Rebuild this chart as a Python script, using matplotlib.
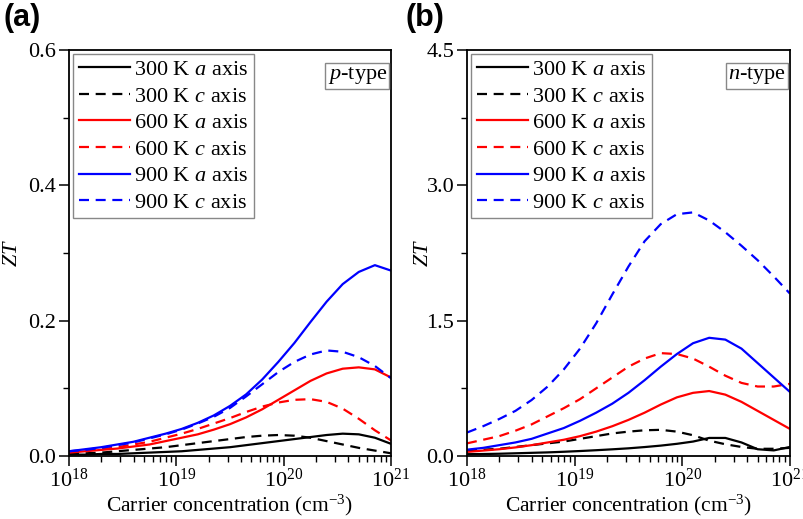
import numpy as np
import matplotlib
matplotlib.use("Agg")
import matplotlib.pyplot as plt
from matplotlib.ticker import MultipleLocator, LogLocator, FormatStrFormatter, NullFormatter

plt.rcParams['font.family'] = ['Liberation Serif', 'DejaVu Serif']
plt.rcParams['mathtext.fontset'] = 'custom'
plt.rcParams['mathtext.rm'] = 'Liberation Serif'
plt.rcParams['mathtext.it'] = 'Liberation Serif:italic'
plt.rcParams['mathtext.bf'] = 'Liberation Serif:bold'

# log10 of carrier concentration (cm^-3)
log_conc = [18.0, 18.15, 18.3, 18.45, 18.6, 18.75, 18.9, 19.05, 19.2, 19.35, 19.5,
            19.65, 19.8, 19.95, 20.1, 20.25, 20.4, 20.55, 20.7, 20.85, 21.0]

# p-type ZT
p_300_a = [0.002, 0.002, 0.003, 0.003, 0.004, 0.005, 0.006, 0.007, 0.009, 0.011, 0.013,
           0.016, 0.019, 0.022, 0.025, 0.028, 0.031, 0.033, 0.032, 0.027, 0.018]
p_300_c = [0.003, 0.004, 0.005, 0.007, 0.009, 0.011, 0.013, 0.016, 0.019, 0.022, 0.025,
           0.028, 0.030, 0.031, 0.030, 0.027, 0.022, 0.017, 0.012, 0.008, 0.004]
p_600_a = [0.005, 0.007, 0.009, 0.011, 0.014, 0.017, 0.022, 0.027, 0.032, 0.039, 0.047,
           0.057, 0.069, 0.083, 0.097, 0.111, 0.122, 0.129, 0.131, 0.128, 0.116]
p_600_c = [0.006, 0.008, 0.010, 0.013, 0.017, 0.021, 0.027, 0.033, 0.040, 0.048, 0.056,
           0.065, 0.073, 0.079, 0.083, 0.084, 0.080, 0.070, 0.055, 0.038, 0.023]
p_900_a = [0.007, 0.010, 0.013, 0.017, 0.021, 0.027, 0.033, 0.040, 0.049, 0.060, 0.074,
           0.091, 0.113, 0.139, 0.167, 0.198, 0.228, 0.254, 0.272, 0.282, 0.274]
p_900_c = [0.007, 0.009, 0.012, 0.016, 0.020, 0.026, 0.032, 0.039, 0.048, 0.058, 0.071,
           0.088, 0.106, 0.124, 0.139, 0.150, 0.156, 0.154, 0.146, 0.133, 0.115]

# n-type ZT
n_300_a = [0.020, 0.022, 0.025, 0.030, 0.035, 0.040, 0.047, 0.055, 0.064, 0.074, 0.085,
           0.099, 0.115, 0.135, 0.160, 0.200, 0.200, 0.150, 0.075, 0.062, 0.100]
n_300_c = [0.060, 0.070, 0.080, 0.100, 0.120, 0.140, 0.160, 0.190, 0.220, 0.250, 0.270,
           0.285, 0.290, 0.270, 0.230, 0.170, 0.130, 0.100, 0.080, 0.080, 0.090]
n_600_a = [0.045, 0.060, 0.075, 0.095, 0.120, 0.150, 0.180, 0.220, 0.270, 0.330, 0.400,
           0.480, 0.570, 0.650, 0.700, 0.720, 0.680, 0.600, 0.500, 0.400, 0.300]
n_600_c = [0.14, 0.18, 0.22, 0.28, 0.35, 0.44, 0.53, 0.63, 0.75, 0.87, 0.99,
           1.08, 1.14, 1.13, 1.08, 0.99, 0.89, 0.81, 0.77, 0.77, 0.80]
n_900_a = [0.07, 0.09, 0.12, 0.15, 0.19, 0.25, 0.31, 0.39, 0.48, 0.58, 0.70,
           0.84, 0.99, 1.13, 1.25, 1.31, 1.29, 1.19, 1.03, 0.87, 0.71]
n_900_c = [0.26, 0.33, 0.41, 0.50, 0.62, 0.77, 0.96, 1.19, 1.47, 1.79, 2.10,
           2.38, 2.57, 2.68, 2.70, 2.61, 2.48, 2.33, 2.17, 1.99, 1.80]

labels = ['300 K $a$ axis', '300 K $c$ axis', '600 K $a$ axis',
          '600 K $c$ axis', '900 K $a$ axis', '900 K $c$ axis']
colors = ['black', 'black', 'red', 'red', 'blue', 'blue']
styles = ['-', '--', '-', '--', '-', '--']

x = 10.0 ** np.array(log_conc)

fig = plt.figure(figsize=(8.04, 5.19), dpi=100)
ax1 = fig.add_axes([0.0858, 0.1214, 0.4005, 0.7823])
ax2 = fig.add_axes([0.5808, 0.1214, 0.4017, 0.7823])

panels = [
    (ax1, [p_300_a, p_300_c, p_600_a, p_600_c, p_900_a, p_900_c], 0.6, 0.2, 0.1, '%.1f',
     '$p$-type', -0.146),
    (ax2, [n_300_a, n_300_c, n_600_a, n_600_c, n_900_a, n_900_c], 4.5, 1.5, 0.75, '%.1f',
     '$n$-type', -0.105),
]

for ax, series, ymax, major, minor, fmt, tag, ylx in panels:
    for y, lab, c, ls in zip(series, labels, colors, styles):
        line, = ax.plot(x, y, color=c, lw=1.6, ls=ls, label=lab)
        if ls == '--':
            line.set_dashes((4.5, 3.0))
    ax.set_xscale('log')
    ax.set_xlim(1e18, 1e21)
    ax.set_ylim(0, ymax)
    ax.yaxis.set_major_locator(MultipleLocator(major))
    ax.yaxis.set_minor_locator(MultipleLocator(minor))
    ax.yaxis.set_major_formatter(FormatStrFormatter(fmt))
    ax.xaxis.set_major_locator(LogLocator(base=10, numticks=10))
    ax.xaxis.set_minor_locator(LogLocator(base=10, subs=np.arange(2, 10), numticks=20))
    ax.xaxis.set_minor_formatter(NullFormatter())
    ax.tick_params(which='major', direction='out', length=7, width=1.1, labelsize=16,
                   top=False, right=False, pad=2)
    ax.tick_params(which='minor', direction='out', length=4, width=1.0,
                   top=False, right=False)
    for sp in ax.spines.values():
        sp.set_linewidth(1.3)
    ax.set_xlabel('Carrier concentration (cm$^{-3}$)', fontsize=15.5, labelpad=1)
    ax.set_ylabel('$ZT$', fontsize=16)
    ax.yaxis.set_label_coords(ylx, 0.5)
    leg = ax.legend(loc='upper left', fontsize=16, frameon=True, fancybox=False,
                    edgecolor='#888888', framealpha=1, borderaxespad=0.18,
                    handlelength=2.3, handletextpad=0.2, labelspacing=0.27,
                    borderpad=0.25)
    leg.get_frame().set_linewidth(1.0)
    ax.text(0.988, 0.962, tag, transform=ax.transAxes, ha='right', va='top', fontsize=16,
            bbox=dict(boxstyle='square,pad=0.1', fc='white', ec='#888888', lw=1.0))

fig.text(0.004, 0.994, '(a)', ha='left', va='top', fontsize=22, fontweight='bold',
         family=['Liberation Sans', 'DejaVu Sans'])
fig.text(0.504, 0.994, '(b)', ha='left', va='top', fontsize=22, fontweight='bold',
         family=['Liberation Sans', 'DejaVu Sans'])

fig.savefig('out.png', dpi=100)
